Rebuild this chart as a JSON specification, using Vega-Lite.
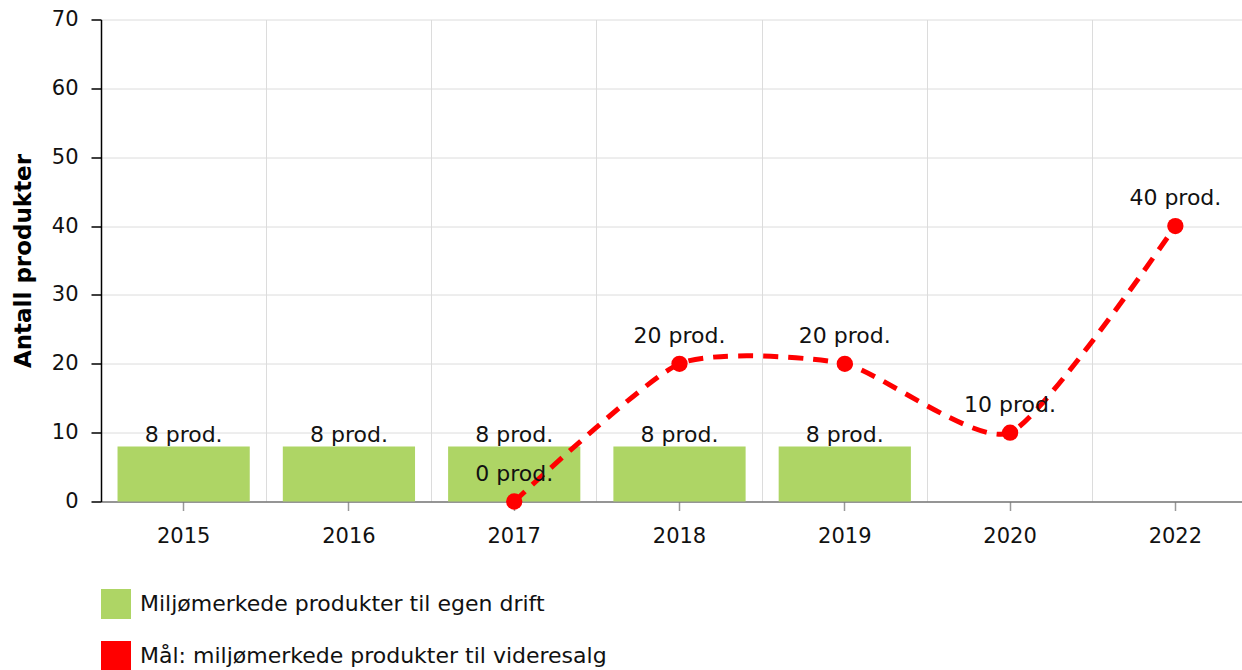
{
  "$schema": "https://vega.github.io/schema/vega-lite/v6.json",
  "autosize": {"type": "none"},
  "width": 1141,
  "height": 482,
  "padding": {"left": 101, "top": 19.5, "right": 0, "bottom": 168.5},
  "config": {
    "font": "DejaVu Sans",
    "view": {"stroke": null},
    "axis": {"labelFont": "DejaVu Sans", "labelFontSize": 21, "labelColor": "#111111", "gridColor": "#dcdcdc", "gridWidth": 1},
    "text": {"font": "DejaVu Sans", "fontSize": 22, "color": "#111111"},
    "legend": {"labelFont": "DejaVu Sans", "labelFontSize": 22, "labelColor": "#111111"}
  },
  "datasets": {
    "bars": [
      {"year": "2015", "value": 8, "label": "8 prod.", "series": "Miljømerkede produkter til egen drift"},
      {"year": "2016", "value": 8, "label": "8 prod.", "series": "Miljømerkede produkter til egen drift"},
      {"year": "2017", "value": 8, "label": "8 prod.", "series": "Miljømerkede produkter til egen drift"},
      {"year": "2018", "value": 8, "label": "8 prod.", "series": "Miljømerkede produkter til egen drift"},
      {"year": "2019", "value": 8, "label": "8 prod.", "series": "Miljømerkede produkter til egen drift"}
    ],
    "goal": [
      {"year": "2017", "value": 0, "label": "0 prod."},
      {"year": "2018", "value": 20, "label": "20 prod."},
      {"year": "2019", "value": 20, "label": "20 prod."},
      {"year": "2020", "value": 10, "label": "10 prod."},
      {"year": "2022", "value": 40, "label": "40 prod."}
    ]
  },
  "encoding": {
    "y": {
      "field": "value",
      "type": "quantitative",
      "scale": {"domain": [0, 70], "nice": false, "zero": true},
      "axis": {
        "title": "Antall produkter",
        "titleFont": "DejaVu Sans",
        "titleFontSize": 23,
        "titleFontWeight": "bold",
        "titleColor": "#000000",
        "titleAngle": -90,
        "titleX": -78,
        "titleY": 241,
        "titleAlign": "center",
        "titleBaseline": "middle",
        "values": [0, 10, 20, 30, 40, 50, 60, 70],
        "grid": true,
        "domainColor": "#000000",
        "domainWidth": 1.5,
        "tickColor": "#000000",
        "tickSize": 10,
        "tickWidth": 1.5,
        "labelPadding": 13
      }
    }
  },
  "layer": [
    {
      "data": {"name": "bars"},
      "mark": {"type": "bar", "width": {"band": 0.8}},
      "encoding": {
        "x": {
          "field": "year",
          "type": "ordinal",
          "scale": {"domain": ["2015", "2016", "2017", "2018", "2019", "2020", "2022"], "paddingInner": 0, "paddingOuter": 0, "range": [0, 1157]},
          "axis": {"orient": "bottom", "grid": true, "bandPosition": 0, "ticks": false, "labels": false, "domain": false, "title": null}
        },
        "color": {
          "field": "series",
          "type": "nominal",
          "scale": {"domain": ["Miljømerkede produkter til egen drift", "Mål: miljømerkede produkter til videresalg"], "range": ["#aed565", "#ff0000"]},
          "legend": {
            "title": null,
            "orient": "none",
            "legendX": 0,
            "legendY": 569.5,
            "direction": "vertical",
            "symbolType": "square",
            "symbolSize": 900,
            "symbolStrokeWidth": 0,
            "labelOffset": 9,
            "rowPadding": 22,
            "padding": 0,
            "labelLimit": 0
          }
        }
      }
    },
    {
      "data": {"name": "bars"},
      "mark": {"type": "text", "baseline": "alphabetic", "dy": -4},
      "encoding": {
        "x": {"field": "year", "type": "ordinal", "axis": null},
        "text": {"field": "label"}
      }
    },
    {
      "data": {"name": "goal"},
      "mark": {"type": "line", "color": "#ff0000", "strokeWidth": 5, "strokeDash": [15, 10], "interpolate": "cardinal", "tension": 0.4},
      "encoding": {
        "x": {
          "field": "year",
          "type": "ordinal",
          "axis": {"orient": "bottom", "grid": false, "title": null, "domainColor": "#777777", "domainWidth": 1.5, "tickColor": "#999999", "tickSize": 9, "tickWidth": 1.5, "labelPadding": 15, "labelAngle": 0}
        }
      }
    },
    {
      "data": {"name": "goal"},
      "mark": {"type": "circle", "color": "#ff0000", "size": 265, "opacity": 1},
      "encoding": {
        "x": {"field": "year", "type": "ordinal", "axis": null}
      }
    },
    {
      "data": {"name": "goal"},
      "mark": {"type": "text", "baseline": "alphabetic", "dy": -21},
      "encoding": {
        "x": {"field": "year", "type": "ordinal", "axis": null},
        "text": {"field": "label"}
      }
    }
  ],
  "resolve": {"axis": {"x": "independent"}}
}
